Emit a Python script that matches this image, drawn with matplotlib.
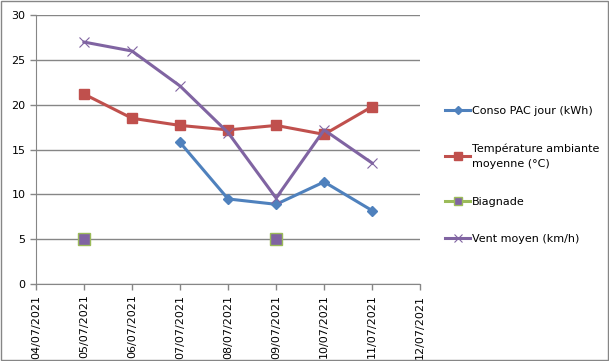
import numpy as np
import pandas as pd
import matplotlib
matplotlib.use("Agg")
from matplotlib import pyplot as plt
import matplotlib.dates as mdates

# data
dates = pd.to_datetime(["2021-07-05", "2021-07-06", "2021-07-07", "2021-07-08",
                        "2021-07-09", "2021-07-10", "2021-07-11"])
conso = [np.nan, np.nan, 15.8, 9.5, 8.9, 11.4, 8.2]
temp = [21.2, 18.5, 17.7, 17.2, 17.7, 16.7, 19.8]
baignade = [5, np.nan, np.nan, np.nan, 5, np.nan, np.nan]
vent = [27.0, 26.0, 22.1, 16.9, 9.6, 17.2, 13.5]

plt.rcParams['font.family'] = 'DejaVu Sans'
fig = plt.figure(figsize=(6.09, 3.61), dpi=100)
ax = fig.add_axes([0.059, 0.213, 0.631, 0.745])

ax.plot(dates, conso, color='#4F81BD', lw=2.2, marker='D', ms=5,
        label='Conso PAC jour (kWh)')
ax.plot(dates, temp, color='#C0504D', lw=2.2, marker='s', ms=7,
        label='Température ambiante\nmoyenne (°C)')
ax.plot(dates, baignade, color='#9BBB59', lw=2.2, marker='s', ms=8,
        mfc='#8064A2', mec='#9BBB59', mew=1, label='Biagnade')
ax.plot(dates, vent, color='#8064A2', lw=2.2, marker='x', ms=7, mew=0.8,
        label='Vent moyen (km/h)')

ax.set_ylim(0, 30)
ax.set_yticks(range(0, 31, 5))
ax.set_xlim(pd.Timestamp("2021-07-04"), pd.Timestamp("2021-07-12"))
ax.xaxis.set_major_locator(mdates.DayLocator())
ax.xaxis.set_major_formatter(mdates.DateFormatter('%d/%m/%Y'))
plt.setp(ax.get_xticklabels(), rotation=90)

ax.grid(axis='y', color='#868686', lw=1)
ax.set_axisbelow(True)
for s in ['top', 'right']:
    ax.spines[s].set_visible(False)
for s in ['left', 'bottom']:
    ax.spines[s].set_color('#868686')
ax.tick_params(colors='#868686', labelcolor='black', labelsize=8, length=4, width=1)

leg = fig.legend(loc='upper left', bbox_to_anchor=(0.715, 0.735), frameon=False,
                 fontsize=8, labelspacing=2.5, handlelength=2.2, handletextpad=0.2,
                 markerscale=0.75)
for t in leg.get_texts():
    t.set_linespacing(1.6)

fig.patches.append(plt.Rectangle((0.001, 0.002), 0.997, 0.995, transform=fig.transFigure,
                                 fill=False, ec='#868686', lw=1))

fig.savefig('out.png', dpi=100)
